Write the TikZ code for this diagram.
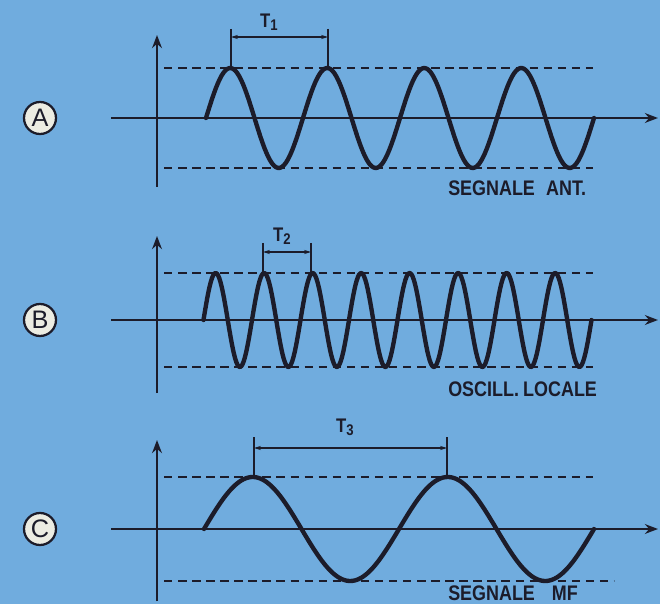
\documentclass[tikz,border=0pt]{standalone}
\usepackage{fontspec}
\usepackage{tikz}
\usetikzlibrary{arrows.meta}
\newfontfamily\lettering[FakeStretch=0.85]{Liberation Sans}
\newfontfamily\badgefont{Liberation Sans}
\definecolor{plate}{RGB}{112,172,222}
\definecolor{ink}{RGB}{28,28,42}
\definecolor{disc}{RGB}{236,236,226}
\newcommand{\idx}[1]{\raisebox{-0.3ex}{\fontsize{11}{11}\selectfont #1}}

\begin{document}
\begin{tikzpicture}[x=0.025cm, y=-0.025cm, >=Stealth]
\tikzset{
  axis/.style={ink, line width=1.4pt},
  level/.style={ink, line width=1.3pt, dash pattern=on 6pt off 4pt},
  wave/.style={ink, line width=3.1pt, line join=round, line cap=round},
  tick/.style={ink, line width=1.2pt},
  span/.style={ink, line width=1.1pt, {Stealth[length=5pt,width=3pt]}-{Stealth[length=5pt,width=3pt]}},
  badge/.style={circle, draw=ink, fill=disc, line width=1.6pt, minimum size=0.8cm, inner sep=0pt,
    text=ink, font=\badgefont\fontsize{18}{18}\selectfont},
  tlabel/.style={ink, inner sep=0pt, font=\lettering\bfseries\fontsize{14}{14}\selectfont},
  caption/.style={ink, inner sep=0pt, anchor=base west, font=\lettering\bfseries\fontsize{15}{15}\selectfont}
}

% Background plate
\fill[plate] (0,0) rectangle (660,604);

% Axes, levels and badges - one row per panel
\foreach \tag/\yc/\amp/\ytop/\ybot/\xbot in {A/118/50/35/187/593, B/320/47/236/393/593, C/529/52/440/601/614} {
  \node[badge] (badge\tag) at (40,\yc) {\tag};
  \draw[axis, ->] (157,\ybot) -- (157,\ytop);
  \draw[axis, ->] (111,\yc) -- (658,\yc);
  \draw[level] (164,{\yc-\amp}) -- (593,{\yc-\amp});
  \draw[level] (164,{\yc+\amp}) -- (\xbot,{\yc+\amp});
}

% A: antenna signal, four periods
\draw[wave] plot[domain=0:388, samples=200] ({206+\x},{118-50*sin(\x/97*360)});
% B: local oscillator, eight periods
\draw[wave] plot[domain=0:388, samples=320] ({203.5+\x},{320-47*sin(\x/48.5*360)});
% C: IF signal, two periods
\draw[wave] plot[domain=0:390, samples=200] ({204+\x},{529-52*sin(\x/195*360)});

% Period markers
\coordinate (spanA1) at (231,37);
\coordinate (spanA2) at (328,37);
\draw[tick] (231,29) -- (231,68);
\draw[tick] (328,29) -- (328,68);
\draw[span] (spanA1) -- (spanA2);
\node[tlabel] (periodA) at (269,22) {T\idx{1}};

\coordinate (spanB1) at (263,252);
\coordinate (spanB2) at (311,252);
\draw[tick] (263,243) -- (263,273);
\draw[tick] (311,243) -- (311,273);
\draw[span] (spanB1) -- (spanB2);
\node[tlabel] (periodB) at (282,236) {T\idx{2}};

\coordinate (spanC1) at (254,448);
\coordinate (spanC2) at (447,448);
\draw[tick] (254,437) -- (254,476);
\draw[tick] (447,437) -- (447,476);
\draw[span] (spanC1) -- (spanC2);
\node[tlabel] (periodC) at (345,427) {T\idx{3}};

% Captions
\node[caption] (capA) at (448,196) {SEGNALE\hspace{8pt}ANT.};
\node[caption] (capB) at (448,396) {OSCILL.\hspace{3pt}LOCALE};
\node[caption] (capC) at (448,600) {SEGNALE\hspace{12pt}MF};

\end{tikzpicture}
\end{document}
